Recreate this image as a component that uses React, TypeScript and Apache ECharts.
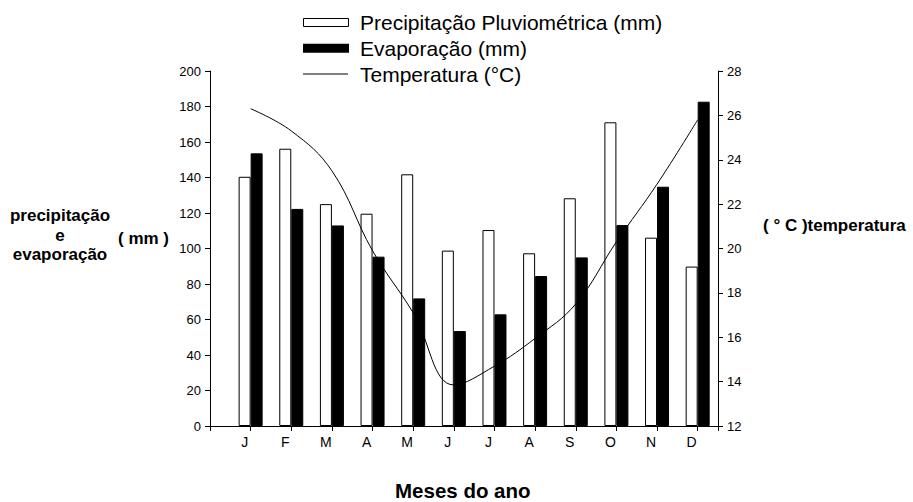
import React, { useEffect, useRef } from "react";
import * as echarts from "echarts";

const months = ["J", "F", "M", "A", "M", "J", "J", "A", "S", "O", "N", "D"];
const precipitation = [140.4, 156.2, 125, 119.6, 141.8, 98.8, 110.4, 97.3, 128.3, 171.1, 106.1, 89.8];
const evaporation = [153.6, 122.3, 113, 95.4, 71.9, 53.5, 62.9, 84.5, 95, 113.2, 134.8, 182.7];
const temperature = [26.3, 25.3, 23.5, 19.9, 17.1, 13.85, 14.7, 15.95, 17.5, 20.3, 22.9, 25.8];
const legendNames = ["Precipitação Pluviométrica (mm)", "Evaporação (mm)", "Temperatura (°C)"];

const FONT = "Liberation Sans, Arial, sans-serif";

export default function App() {
  const ref = useRef<HTMLDivElement>(null);
  useEffect(() => {
    if (!ref.current) return;
    const chart = echarts.init(ref.current, null, { renderer: "svg" });
    const pos = (i: number) => i + 1;
    const rowY = [22.5, 48.2, 74];
    chart.setOption({
      animation: false,
      backgroundColor: "#ffffff",
      textStyle: { fontFamily: FONT },
      grid: { left: 210, right: 195, top: 71, bottom: 76, containLabel: false },
      xAxis: {
        type: "value",
        min: 0,
        max: 12.5,
        interval: 1,
        splitLine: { show: false },
        axisLine: { show: true, lineStyle: { color: "#000", width: 1 } },
        axisTick: { show: true, length: 5, lineStyle: { color: "#000" } },
        axisLabel: {
          fontSize: 14,
          color: "#000",
          margin: 9,
          padding: [0, 12, 0, 0],
          formatter: (v: number) => (Number.isInteger(v) && v >= 1 && v <= 12 ? months[v - 1] : ""),
        },
      },
      yAxis: [
        {
          type: "value",
          min: 0,
          max: 200,
          interval: 20,
          splitLine: { show: false },
          axisLine: { show: true, lineStyle: { color: "#000" } },
          axisTick: { show: true, length: 5, lineStyle: { color: "#000" } },
          axisLabel: { fontSize: 13, color: "#000", margin: 9 },
        },
        {
          type: "value",
          min: 12,
          max: 28,
          interval: 2,
          position: "right",
          splitLine: { show: false },
          axisLine: { show: true, lineStyle: { color: "#000" } },
          axisTick: { show: true, length: 5, lineStyle: { color: "#000" } },
          axisLabel: { fontSize: 13, color: "#000", margin: 9 },
        },
      ],
      series: [
        {
          name: legendNames[0],
          type: "bar",
          barWidth: 12,
          barGap: "0%",
          data: precipitation.map((v, i) => [pos(i), v]),
          itemStyle: { color: "#ffffff", borderColor: "#000", borderWidth: 1 },
        },
        {
          name: legendNames[1],
          type: "bar",
          barWidth: 12,
          barGap: "0%",
          data: evaporation.map((v, i) => [pos(i), v]),
          itemStyle: { color: "#000000", borderColor: "#000", borderWidth: 1 },
        },
        {
          name: legendNames[2],
          type: "line",
          yAxisIndex: 1,
          smooth: 0.4,
          symbol: "none",
          lineStyle: { color: "#000", width: 1 },
          itemStyle: { color: "#000" },
          data: temperature.map((v, i) => [pos(i), v]),
        },
      ],
      graphic: [
        {
          type: "rect",
          shape: { x: 303.5, y: rowY[0] - 4, width: 45, height: 8 },
          style: { fill: "#fff", stroke: "#000", lineWidth: 1 },
        },
        {
          type: "rect",
          shape: { x: 303, y: rowY[1] - 4.5, width: 46, height: 9 },
          style: { fill: "#000" },
        },
        {
          type: "line",
          shape: { x1: 303, y1: rowY[2], x2: 348, y2: rowY[2] },
          style: { stroke: "#000", lineWidth: 1 },
        },
        ...legendNames.map((n, i) => ({
          type: "text",
          x: 360,
          y: rowY[i],
          style: {
            text: n,
            font: `21px ${FONT}`,
            fill: "#000",
            verticalAlign: "middle",
            align: "left",
          },
        })),
        {
          type: "text",
          x: 60,
          y: 206,
          style: {
            text: "precipitação\ne\nevaporação",
            font: `bold 17px ${FONT}`,
            fill: "#000",
            align: "center",
            verticalAlign: "top",
            lineHeight: 19.5,
          },
        },
        {
          type: "text",
          x: 118,
          y: 238,
          style: { text: "( mm )", font: `bold 17px ${FONT}`, fill: "#000", verticalAlign: "middle" },
        },
        {
          type: "text",
          x: 763,
          y: 225,
          style: { text: "( ° C )temperatura", font: `bold 17px ${FONT}`, fill: "#000", verticalAlign: "middle" },
        },
        {
          type: "text",
          x: 395,
          y: 490,
          style: { text: "Meses do ano", font: `bold 20.5px ${FONT}`, fill: "#000", verticalAlign: "middle" },
        },
      ],
    });
    return () => chart.dispose();
  }, []);
  return <div ref={ref} style={{ width: 913, height: 502, position: "absolute", left: 0, top: 0 }} />;
}
